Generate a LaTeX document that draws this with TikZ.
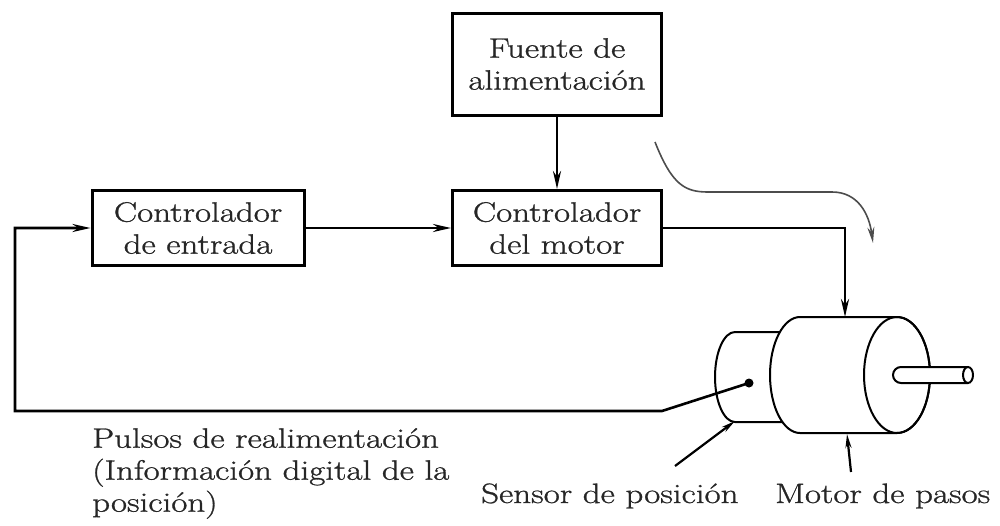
\documentclass[tikz,border=0pt]{standalone}
\usepackage{fontspec}
\setmainfont{Latin Modern Roman}[FakeStretch=1.25, FakeBold=1]
\usetikzlibrary{arrows.meta}
\begin{document}
\begin{tikzpicture}[x=1pt,y=-1pt,
  txt/.style={font=\fontsize{28}{32}\selectfont, text=black!85},
  blk/.style={draw, line width=3pt, align=center, inner sep=0pt, txt},
  conn/.style={line width=2.6pt, -{Stealth[length=18pt,width=8pt]}},
  lead/.style={line width=2.2pt, -{Stealth[length=14pt,width=6pt]}},
  body/.style={line width=2pt, fill=white},
]
\useasboundingbox (0,0) rectangle (1000,525);

% blocks
\node[blk, minimum width=209pt, minimum height=102pt] (fuente) at (557,64) {Fuente de\\alimentación};
\node[blk, minimum width=212pt, minimum height=75pt] (entrada) at (198,228) {Controlador\\de entrada};
\node[blk, minimum width=209pt, minimum height=75pt] (ctrl) at (557,228) {Controlador\\del motor};

% reference points on the motor
\coordinate (mtop) at (845,317);
\coordinate (dot) at (749,383);
\coordinate (fbk) at (662,411);
\coordinate (fbkL) at (15,411);
\coordinate (sensTip) at (735,421);
\coordinate (sensFrom) at (675,466);
\coordinate (motTip) at (847,434);
\coordinate (motFrom) at (851,472);
\coordinate (flowA) at (655,142);
\coordinate (flowB) at (873,243);

% stepper motor with position sensor
\draw[body] (790,332) -- (735,332) arc[start angle=270, end angle=90, x radius=20, y radius=45] -- (790,422);
\draw[body] (800,317) -- (897,317) arc[start angle=270, end angle=450, x radius=33, y radius=58]
  -- (800,433) arc[start angle=90, end angle=270, x radius=30, y radius=58] -- cycle;
\draw[line width=2pt] (897,375) ellipse[x radius=33, y radius=58];
\draw[body] (968,367) -- (901,367) arc[start angle=270, end angle=90, x radius=8, y radius=8] -- (968,383);
\draw[body] (968,375) ellipse[x radius=5, y radius=8];
\fill (dot) circle (4.5);

% signal connectors
\draw[conn] (fuente.south) -- (ctrl.north);
\draw[conn] (entrada.east) -- (ctrl.west);
\draw[conn] (ctrl.east) -| (mtop);
\draw[conn] (dot) -- (fbk) -- (fbkL) |- (entrada.west);

% energy flow
\draw[black!70, line width=1.6pt, -{Stealth[length=16pt,width=7pt]}]
  (flowA) .. controls (672,185) and (685,192) .. (708,192) -- (832,192)
  .. controls (858,192) and (869,214) .. (flowB);

% labels
\node[txt, anchor=north west, align=left, inner sep=0pt] (pulsos) at (92,428)
  {Pulsos de realimentación\\(Información digital de la\\posición)};
\node[txt, anchor=base west, inner sep=0pt] (sensor) at (481,503) {Sensor de posición};
\node[txt, anchor=base west, inner sep=0pt] (motor) at (775,503) {Motor de pasos};
\draw[lead] (sensFrom) -- (sensTip);
\draw[lead] (motFrom) -- (motTip);
\end{tikzpicture}
\end{document}
